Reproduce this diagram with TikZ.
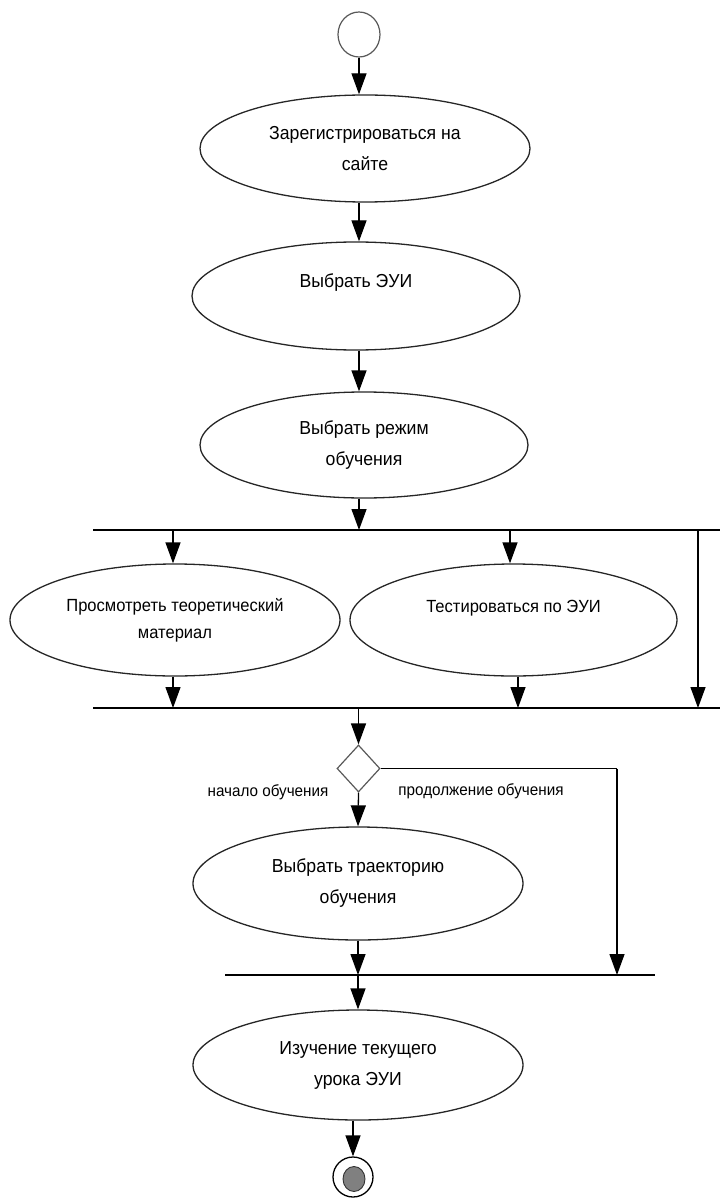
\documentclass[tikz,border=0pt]{standalone}
\usepackage{fontspec}
\setmainfont{Liberation Sans}[FakeStretch=0.94]
\usetikzlibrary{shapes.geometric,arrows.meta}

\begin{document}
\begin{tikzpicture}[x=1pt,y=-1pt,
  act/.style={draw=black!85, ellipse, line width=1.3pt, inner sep=0pt,
    align=center, font=\fontsize{18.8}{31}\selectfont},
  flow/.style={-{Triangle[length=21pt,width=15pt]}, line width=1.3pt},
  plain/.style={line width=1.3pt},
  bar/.style={line width=1.8pt},
  guard/.style={font=\fontsize{16.2}{20}\selectfont, inner sep=0pt}
]
\useasboundingbox (0,0) rectangle (720,1198);

% initial state
\node[ellipse, draw=black!65, line width=1.2pt, minimum width=42pt,
  minimum height=45pt, inner sep=0pt] (start) at (359,34.5) {};

% actions
\node[act, minimum width=330pt, minimum height=107pt] (reg) at (365,148.5)
  {Зарегистрироваться на\\сайте};
\node[act, minimum width=328pt, minimum height=108pt] (eui) at (356,296)
  {Выбрать ЭУИ\\\mbox{}};
\node[act, minimum width=328pt, minimum height=106pt] (mode) at (364,445)
  {Выбрать режим\\обучения};

% first fork bar and its taps
\coordinate (f1l) at (93,530);
\coordinate (f1r) at (720,530);
\coordinate (f1a) at (173,530);
\coordinate (f1b) at (510,530);
\coordinate (f1x) at (698,530);
\draw[bar] (f1l) -- (f1r);

\node[act, minimum width=330pt, minimum height=112pt,
  font=\fontsize{17.6}{27}\selectfont] (theory) at (175,620)
  {Просмотреть теоретический\\материал};
\node[act, minimum width=327pt, minimum height=112pt,
  font=\fontsize{17.6}{28}\selectfont] (test) at (513.5,620)
  {Тестироваться по ЭУИ\\\mbox{}};

% join bar
\coordinate (f2l) at (93,708);
\coordinate (f2r) at (720,708);
\coordinate (f2a) at (173,708);
\coordinate (f2b) at (518,708);
\draw[bar] (f2l) -- (f2r);

% decision
\node[diamond, draw=black!65, line width=1.2pt, minimum width=43pt,
  minimum height=47pt, inner sep=0pt] (dec) at (358.5,768.5) {};
\coordinate (turn) at (617,768.5);

\node[act, minimum width=330pt, minimum height=113pt] (path) at (358,883.5)
  {Выбрать траекторию\\обучения};

% merge bar
\coordinate (f3l) at (225,975);
\coordinate (f3r) at (655,975);
\draw[bar] (f3l) -- (f3r);

\node[act, minimum width=330pt, minimum height=110pt] (lesson) at (358,1065)
  {Изучение текущего\\урока ЭУИ};

% final state
\node[ellipse, draw=black, line width=1.3pt, minimum width=40pt,
  minimum height=40pt, inner sep=0pt] (stop) at (353,1177) {};
\node[ellipse, draw=black!80, fill=black!50, line width=0.9pt,
  minimum width=22pt, minimum height=25pt, inner sep=0pt] (stopdot) at (354,1179) {};

% guards
\node[guard] (gstart) at (268,792) {начало обучения};
\node[guard] (gcont) at (481,791) {продолжение обучения};

% flows
\draw[flow] (start.south) -- (start.south |- reg.north);
\draw[flow] (reg.south -| start.south) -- (start.south |- eui.north);
\draw[flow] (eui.south -| start.south) -- (start.south |- mode.north);
\draw[flow] (mode.south -| start.south) -- (start.south |- f1l);
\draw[flow] (f1a) -- (f1a |- theory.north);
\draw[flow] (f1b) -- (f1b |- test.north);
\draw[flow] (f1x) -- (f1x |- f2l);
\draw[flow] (f2a |- theory.south) -- (f2a);
\draw[flow] (f2b |- test.south) -- (f2b);
\draw[flow] (dec.north |- f2l) -- (dec.north);
\draw[plain] (dec.east) -- (turn);
\draw[flow] (turn) -- (turn |- f3l);
\draw[flow] (dec.south) -- (path.north);
\draw[flow] (path.south) -- (path.south |- f3l);
\draw[flow] (lesson.north |- f3l) -- (lesson.north);
\draw[flow] (lesson.south -| stop.north) -- (stop.north);
\end{tikzpicture}
\end{document}
